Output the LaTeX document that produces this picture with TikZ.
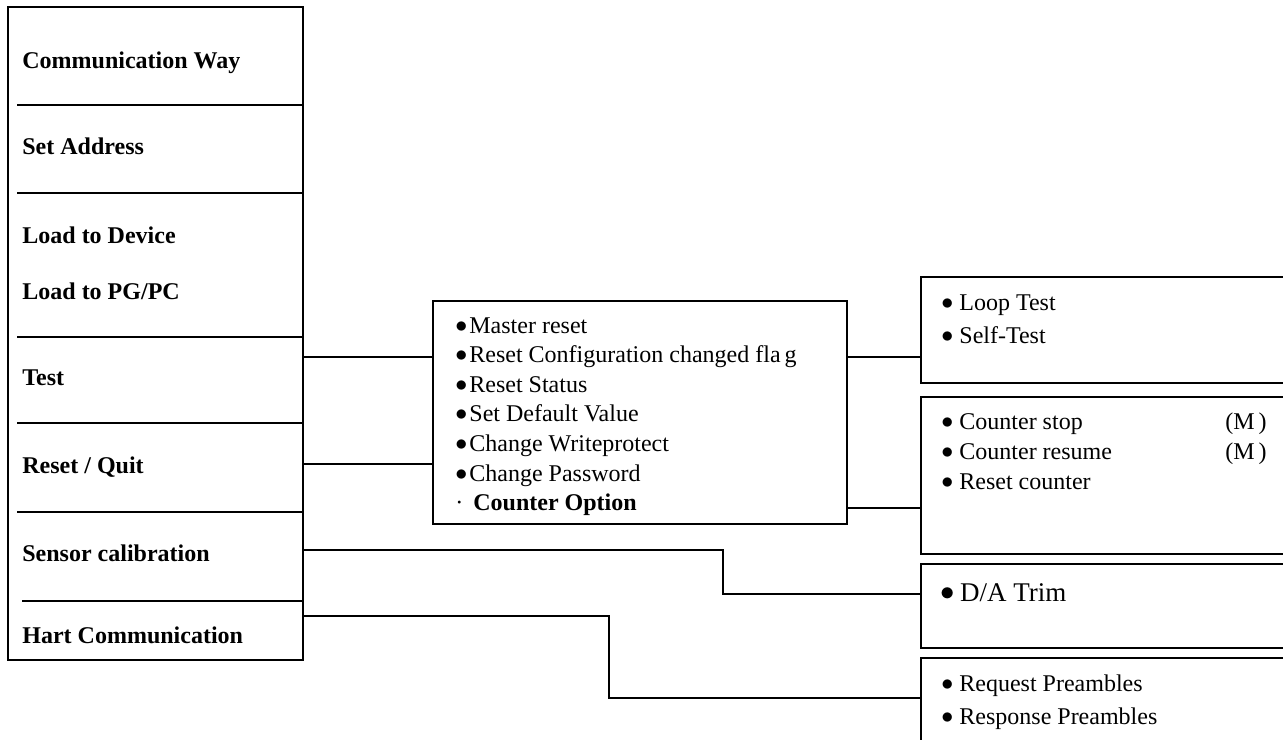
\documentclass[tikz,border=0pt]{standalone}
\usepackage{fontspec}
\setmainfont{Liberation Serif}
\usetikzlibrary{positioning,fit}
\newcommand{\bul}[1][3pt]{\raisebox{0.5pt}{$\bullet$}\hspace{#1}}

\begin{document}
\begin{tikzpicture}[
	x=0.5pt, y=-0.5pt,
	every node/.style={font=\fontsize{12}{14}\selectfont, inner sep=0pt},
	box/.style={draw, line width=0.8pt, inner sep=0pt},
	sep/.style={line width=1.4pt},
	link/.style={line width=0.7pt},
	head/.style={font=\fontsize{12}{14}\selectfont\bfseries, anchor=base west},
	item/.style={anchor=base west}
	]
	
	\useasboundingbox (0,0) rectangle (1283,739);
	\clip (0,0) rectangle (1283,739);
	
	% main menu
	\node[box, fit={(8,7) (303,660)}] (menu) {};
	\node[head] (comm) at (22,68) {Communication Way};
	\node[head] (addr) at (22,154) {Set Address};
	\node[head] (dev) at (22,243) {Load to Device};
	\node[head] (pgpc) at (22,299) {Load to PG/PC};
	\node[head] (test) at (22,385) {Test};
	\node[head] (quit) at (22,473) {Reset / Quit};
	\node[head] (calib) at (22,561) {Sensor calibration};
	\node[head] (hart) at (22,643) {Hart Communication};
	
	\foreach \y in {105,193,337,423,512}
		\draw[sep] (17,\y) -- (303,\y);
	\draw[line width=0.8pt] (22,601) -- (303,601);
	
	% reset / quit options
	\node[box, fit={(433,301) (847,524)}] (opts) {};
	\foreach \txt [count=\i] in {Master reset, Reset Configuration changed fla\,g, Reset Status, Set Default Value, Change\ Writeprotect, Change Password}
		\node[item] (opt\i) at (455,333+29.6*\i-29.6) {\bul[1pt]\txt};
	\node[item] (optcnt) at (455,510) {·\hspace{5pt}\textbf{Counter Option}};
	
	% sub menus
	\node[box, fit={(921,277) (1300,383)}] (tests) {};
	\node[item] (loop) at (941,310) {\bul Loop Test};
	\node[item] (self) at (941,343) {\bul Self-Test};
	
	\node[box, fit={(921,397) (1300,554)}] (counter) {};
	\node[item] (cstop) at (941,429) {\bul Counter stop};
	\node[item] (cres) at (941,459) {\bul Counter resume};
	\node[item] (creset) at (941,489) {\bul Reset counter};
	\node[item] (mstop) at (1225,429) {(M\,)};
	\node[item] (mres) at (1225,459) {(M\,)};
	
	\node[box, fit={(921,564) (1300,648)}] (trim) {};
	\node[item, font=\fontsize{13.5}{16}\selectfont] (da) at (940,601) {\bul[2.6pt]D/A Trim};
	
	\node[box, fit={(921,658) (1300,780)}] (pream) {};
	\node[item] (req) at (941,691) {\bul Request Preambles};
	\node[item] (resp) at (941,724) {\bul Response Preambles};
	
	% connectors
	\draw[link] (menu.east |- 0,357) -- (opts.west |- 0,357);
	\draw[link] (menu.east |- 0,464) -- (opts.west |- 0,464);
	\draw[link] (opts.east |- 0,357) -- (tests.west |- 0,357);
	\draw[link] (opts.east |- 0,508) -- (counter.west |- 0,508);
	\draw[link] (menu.east |- 0,550) -- (723,550) -- (723,594) -- (trim.west |- 0,594);
	\draw[link] (menu.east |- 0,616) -- (609,616) -- (609,698) -- (pream.west |- 0,698);
	
\end{tikzpicture}
\end{document}
